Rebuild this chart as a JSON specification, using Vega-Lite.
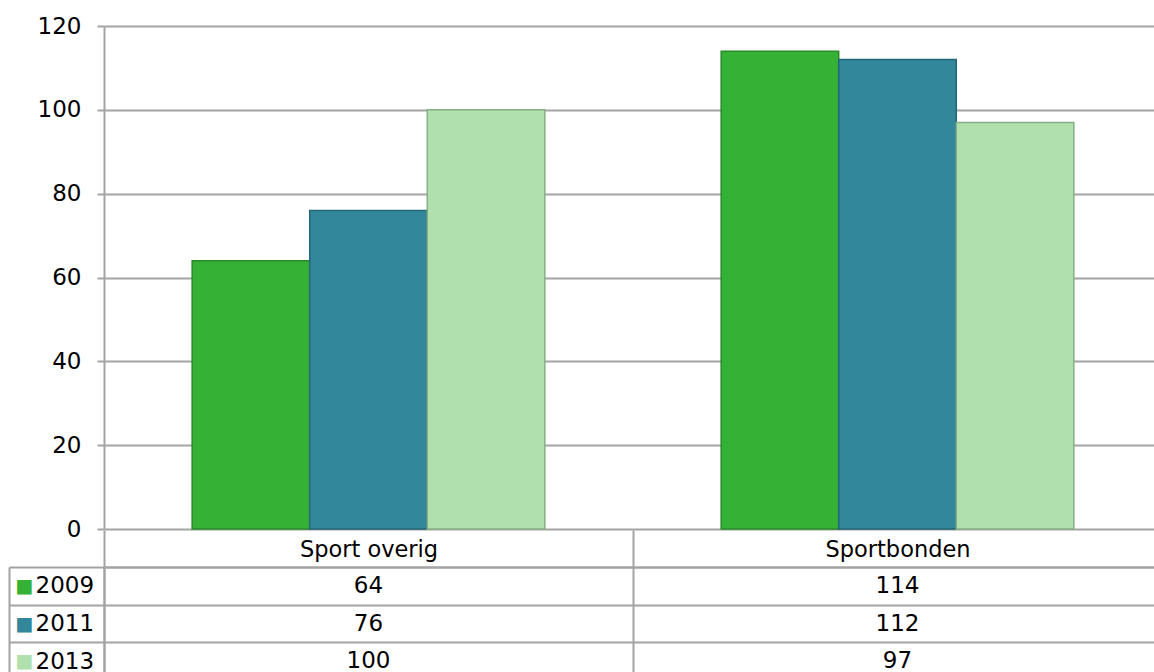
{
  "$schema": "https://vega.github.io/schema/vega-lite/v6.json",
  "padding": {"left": 8, "top": 15, "right": 0, "bottom": 0},
  "spacing": -12,
  "config": {
    "view": {"stroke": null},
    "font": "DejaVu Sans",
    "axis": {
      "labelFont": "DejaVu Sans",
      "labelFontSize": 23,
      "labelColor": "#000000",
      "domainColor": "#a3a3a3",
      "domainWidth": 2,
      "tickColor": "#a3a3a3",
      "tickWidth": 2,
      "gridColor": "#a3a3a3",
      "gridWidth": 2,
      "gridOpacity": 1,
      "title": null
    }
  },
  "datasets": {
    "d": [
      {"cat": "Sport overig", "year": "2009", "value": 64},
      {"cat": "Sport overig", "year": "2011", "value": 76},
      {"cat": "Sport overig", "year": "2013", "value": 100},
      {"cat": "Sportbonden", "year": "2009", "value": 114},
      {"cat": "Sportbonden", "year": "2011", "value": 112},
      {"cat": "Sportbonden", "year": "2013", "value": 97}
    ]
  },
  "vconcat": [
    {
      "width": 1058,
      "height": 503,
      "data": {"name": "d"},
      "mark": {"type": "bar", "strokeWidth": 1.5},
      "encoding": {
        "x": {"field": "cat", "type": "nominal", "sort": null, "scale": {"type": "band", "paddingInner": 0, "paddingOuter": 0}, "axis": null},
        "xOffset": {"field": "year", "type": "nominal", "scale": {"paddingInner": 0, "paddingOuter": 0.75}},
        "y": {
          "field": "value", "type": "quantitative",
          "scale": {"domain": [0, 120], "nice": false},
          "axis": {"values": [0, 20, 40, 60, 80, 100, 120], "tickSize": 7, "labelPadding": 16, "grid": true, "domain": true}
        },
        "fill": {"field": "year", "type": "nominal", "scale": {"domain": ["2009", "2011", "2013"], "range": ["#35b235", "#32879b", "#afe0ad"]}, "legend": null},
        "stroke": {"field": "year", "type": "nominal", "scale": {"domain": ["2009", "2011", "2013"], "range": ["#2a8a2a", "#246577", "#86ae86"]}, "legend": null}
      }
    },
    {
      "width": 1058,
      "height": 113,
      "data": {"name": "d"},
      "encoding": {
        "x": {
          "field": "cat", "type": "nominal", "sort": null,
          "scale": {"type": "band", "paddingInner": 0, "paddingOuter": 0},
          "axis": {"orient": "top", "tickBand": "extent", "tickSize": 37, "labelPadding": -19, "labelBaseline": "middle", "labelAngle": 0, "labelFontSize": 22.5, "grid": true, "domain": true}
        }
      },
      "layer": [
        {
          "mark": {"type": "text", "fontSize": 23, "font": "DejaVu Sans", "color": "#000000"},
          "encoding": {
            "text": {"field": "value", "type": "quantitative"},
            "y": {
              "field": "year", "type": "nominal",
              "scale": {"type": "band", "paddingInner": 0, "paddingOuter": 0},
              "axis": {"orient": "left", "tickBand": "extent", "tickSize": 95, "labelAlign": "left", "labelPadding": -26, "labelBaseline": "middle", "grid": true, "domain": true}
            }
          }
        },
        {
          "mark": {"type": "text", "fontSize": 23, "opacity": 0},
          "encoding": {
            "text": {"field": "value", "type": "quantitative"},
            "y": {
              "field": "year", "type": "nominal",
              "scale": {"type": "band", "paddingInner": 0, "paddingOuter": 0},
              "axis": {
                "orient": "left", "offset": 95, "ticks": false, "grid": false, "domain": true,
                "labelExpr": "'■'", "labelAlign": "left", "labelPadding": -6, "labelBaseline": "middle", "labelFontSize": 19,
                "labelColor": {"condition": [{"test": "datum.value === '2009'", "value": "#35b235"}, {"test": "datum.value === '2011'", "value": "#32879b"}], "value": "#afe0ad"}
              }
            }
          }
        }
      ],
      "resolve": {"axis": {"y": "independent"}}
    }
  ]
}
